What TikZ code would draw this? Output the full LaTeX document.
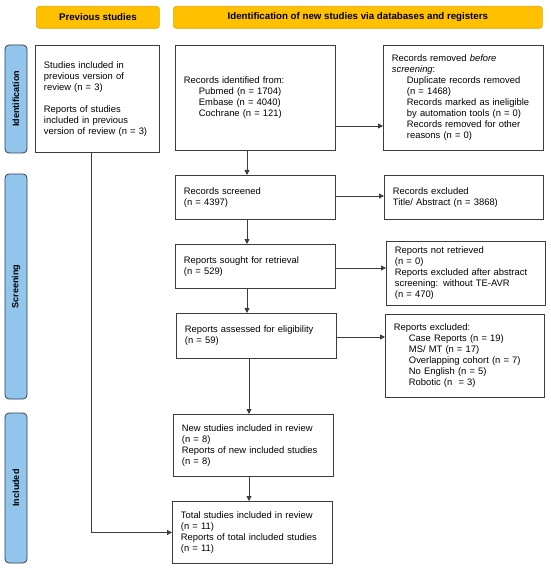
\documentclass[tikz,border=0pt]{standalone}
\usepackage{fontspec}
\setmainfont{Liberation Sans}
\usetikzlibrary{arrows.meta,calc}
\definecolor{hdrfill}{RGB}{255,192,0}
\definecolor{hdrdraw}{RGB}{226,168,0}
\definecolor{sidefill}{RGB}{146,197,235}
\definecolor{sidedraw}{RGB}{45,62,82}
\definecolor{linec}{RGB}{60,60,60}
\newcommand{\ind}{\hspace*{15pt}}
\begin{document}
\begin{tikzpicture}[x=1pt,y=-1pt,
  hdr/.style={draw=hdrdraw,fill=hdrfill,rounded corners=3pt,line width=0.7pt,
    minimum height=22pt,anchor=north west,inner sep=0pt,
    font=\fontsize{9.7}{11}\selectfont\bfseries},
  side/.style={draw=sidedraw,fill=sidefill,rounded corners=4pt,line width=0.8pt,
    rotate=90,minimum height=22pt,inner sep=0pt,
    font=\fontsize{9}{11}\selectfont\bfseries},
  box/.style={draw=linec,line width=0.9pt,anchor=north west,align=left,
    inner xsep=8.5pt,inner ysep=0pt,font=\fontsize{9.4}{11}\selectfont},
  arr/.style={draw=linec,line width=0.9pt,-{Triangle[length=5pt,width=5pt]}},
  ln/.style={draw=linec,line width=0.9pt}]
\useasboundingbox (0,0) rectangle (550,569);

% headers
\node[hdr,minimum width=123pt] (hprev) at (36,6) {Previous studies};
\node[hdr,minimum width=369pt] (hid) at (173,6) {Identification of new studies via databases and registers};

% side bars
\node[side,minimum width=108pt] (sid) at (16,99) {Identification};
\node[side,minimum width=225pt] (sscr) at (16,286.5) {Screening};
\node[side,minimum width=150pt] (sinc) at (16,488) {Included};

% boxes
\node[box,text width=107pt,minimum height=107pt] (prev) at (35,45)
 {Studies included in\\previous version of\\review (n = 3)\\[11pt]Reports of studies\\included in previous\\version of review (n = 3)};
\node[box,text width=143pt,minimum height=105pt] (ident) at (175,45)
 {Records identified from:\\\ind Pubmed (n = 1704)\\\ind Embase (n = 4040)\\\ind Cochrane (n = 121)};
\node[box,text width=143pt,minimum height=105pt] (removed) at (383,45)
 {Records removed \textit{before}\\\textit{screening}:\\\ind Duplicate records removed\\\ind (n = 1468)\\\ind Records marked as ineligible\\\ind by automation tools (n = 0)\\\ind Records removed for other\\\ind reasons (n = 0)};
\node[box,text width=143pt,minimum height=44pt] (screened) at (175,175)
 {Records screened\\(n = 4397)};
\node[box,text width=142pt,minimum height=44pt] (excl) at (384,175)
 {Records excluded\\Title/ Abstract (n = 3868)};
\node[box,text width=143pt,minimum height=44pt] (sought) at (175,244)
 {Reports sought for retrieval\\(n = 529)};
\node[box,text width=142pt,minimum height=64pt] (notret) at (386,241)
 {Reports not retrieved\\(n = 0)\\Reports excluded after abstract\\screening: without TE-AVR\\(n = 470)};
\node[box,text width=143pt,minimum height=45pt] (assessed) at (176,313)
 {Reports assessed for eligibility\\(n = 59)};
\node[box,text width=142pt,minimum height=83pt] (excl2) at (385,314)
 {Reports excluded:\\\ind Case Reports (n = 19)\\\ind MS/ MT (n = 17)\\\ind Overlapping cohort (n = 7)\\\ind No English (n = 5)\\\ind Robotic (n \ = 3)};
\node[box,text width=143pt,minimum height=62pt] (new) at (173,414)
 {New studies included in review\\(n = 8)\\Reports of new included studies\\(n = 8)};
\node[box,text width=143pt,minimum height=62pt] (total) at (172,501)
 {Total studies included in review\\(n = 11)\\Reports of total included studies\\(n = 11)};

% helper coordinates
\coordinate (vx) at (247,0);
\coordinate (vx2) at (249,0);
\coordinate (px) at (91,0);
\coordinate (h1) at (0,126);
\coordinate (h2) at (0,196);
\coordinate (h3) at (0,268);
\coordinate (h4) at (0,337);

% vertical arrows
\draw[arr] (ident.south -| vx) -- (screened.north -| vx);
\draw[arr] (screened.south -| vx) -- (sought.north -| vx);
\draw[arr] (sought.south -| vx) -- (assessed.north -| vx);
\draw[arr] (assessed.south -| vx2) -- (new.north -| vx2);
\draw[arr] (new.south -| vx2) -- (total.north -| vx2);

% horizontal arrows
\draw[arr] (ident.east |- h1) -- (removed.west |- h1);
\draw[arr] (screened.east |- h2) -- (excl.west |- h2);
\draw[arr] (sought.east |- h3) -- (notret.west |- h3);
\draw[arr] (assessed.east |- h4) -- (excl2.west |- h4);

% previous studies to total
\draw[arr] (prev.south -| px) |- (total.west);
\end{tikzpicture}
\end{document}
